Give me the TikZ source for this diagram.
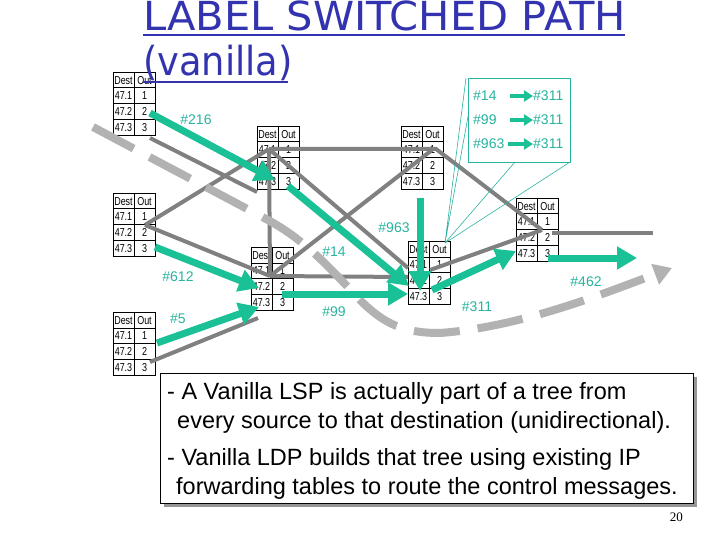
\documentclass[tikz,border=0pt]{standalone}
\usepackage{fontspec}
\setmainfont{Liberation Sans}
\newfontfamily\titlefont{DejaVu Sans}
\newfontfamily\numfont{Liberation Serif}
\usetikzlibrary{arrows.meta}
\definecolor{lspgreen}{RGB}{26,192,150}
\definecolor{labteal}{RGB}{40,180,160}
\definecolor{linkgray}{RGB}{128,128,128}
\definecolor{pathgray}{RGB}{178,178,178}
\definecolor{titleblue}{RGB}{51,51,175}
\definecolor{shadowgray}{RGB}{150,150,150}
\newcommand{\tc}[1]{\scalebox{0.78}[1]{#1}}
\begin{document}
\begin{tikzpicture}[x=1pt,y=-1pt,
  tcell/.style={inner sep=0pt, font=\fontsize{11.5}{11.5}\selectfont},
  fwd/.pic={
    \draw[fill=white, line width=0.6pt] (0,0) rectangle (42,63);
    \draw[line width=0.6pt] (21,0) -- (21,63) (0,31) -- (42,31) (0,47) -- (42,47);
    \draw[line width=1pt] (0,16) -- (42,16);
    \node[tcell] (-h1) at (10.5,8.5) {\tc{Dest}};
    \node[tcell] (-h2) at (31.5,8.5) {\tc{Out}};
    \node[tcell] (-a1) at (10.5,24) {\tc{47.1}};
    \node[tcell] (-b1) at (31.5,24) {\tc{1}};
    \node[tcell] (-a2) at (10.5,39.5) {\tc{47.2}};
    \node[tcell] (-b2) at (31.5,39.5) {\tc{2}};
    \node[tcell] (-a3) at (10.5,55.5) {\tc{47.3}};
    \node[tcell] (-b3) at (31.5,55.5) {\tc{3}};
  },
  link/.style={draw=linkgray, line width=4pt},
  lsp/.style={draw=lspgreen, line width=7pt, -{Triangle[length=20pt,width=22pt]}},
  minilsp/.style={draw=lspgreen, line width=4pt, -{Triangle[length=9pt,width=11pt]}},
  lbl/.style={text=labteal, font=\fontsize{14}{14}\selectfont, inner sep=0pt},
  callout/.style={draw=labteal, line width=0.6pt},
  bodytext/.style={font=\fontsize{23.5}{24}\selectfont, inner sep=0pt, anchor=base west},
]
\useasboundingbox (0,0) rectangle (720,540);
\fill[white] (0,0) rectangle (720,540);

% forwarding tables
\pic (t1) at (113,72) {fwd};
\pic (t2) at (257,126) {fwd};
\pic (t3) at (401,126) {fwd};
\pic (t4) at (113,193) {fwd};
\pic (t5) at (251,247) {fwd};
\pic (t6) at (113,312) {fwd};
\pic (t7) at (408,241) {fwd};
\pic (t8) at (516,198) {fwd};

% junction points
\coordinate (j1) at (150,138);
\coordinate (j2) at (269,149);
\coordinate (j3) at (436,149);
\coordinate (j4) at (145,225);
\coordinate (j5) at (270,276);
\coordinate (j6) at (150,362);
\coordinate (j7) at (430,270);
\coordinate (j8) at (542,230);
\coordinate (e2) at (257,192);
\coordinate (e3) at (432,150);
\coordinate (e5) at (258,318);
\coordinate (e7a) at (408,268);
\coordinate (e7b) at (408,277);
\coordinate (e8) at (552,233);
\coordinate (out8) at (653,233);

% physical links
\draw[link] (j1) -- (e2);
\draw[link] (j4) -- (j2);
\draw[link] (j2) -- (j3) -- (j8);
\draw[link] (j2) -- (e7a);
\draw[link] (j2) -- (j5);
\draw[link] (j4) -- (j5);
\draw[link] (j5) -- (e7b);
\draw[link] (j5) -- (e3);
\draw[link] (j6) -- (e5);
\draw[link] (j7) -- (j8);
\draw[link] (e8) -- (out8);

% dashed control path
\coordinate (p0) at (93,127);
\coordinate (p1) at (268,220);
\coordinate (p2) at (360,300);
\coordinate (p3) at (440,333);
\coordinate (p4) at (672,268);
\draw[draw=pathgray, line width=8pt, dash pattern=on 46pt off 18pt,
      -{Triangle[length=18pt,width=21pt]}]
  (p0) -- (p1) .. controls (305,240) and (330,268) .. (p2)
       .. controls (385,325) and (405,333) .. (p3)
       .. controls (520,327) and (600,295) .. (p4);

% LSP arrows
\coordinate (s1) at (150,113);  \coordinate (d1) at (275,180);
\coordinate (s2) at (288,186);  \coordinate (d2) at (409,286);
\coordinate (s3) at (282,294);  \coordinate (d3) at (408,294);
\coordinate (s4) at (420,198);  \coordinate (d4) at (420,291);
\coordinate (s5) at (432,290);  \coordinate (d5) at (516,251);
\coordinate (s6) at (548,258);  \coordinate (d6) at (637,258);
\coordinate (s7) at (155,247);  \coordinate (d7) at (259,288);
\coordinate (s8) at (157,343);  \coordinate (d8) at (259,307);
\draw[lsp] (s1) -- (d1);
\draw[lsp] (s2) -- (d2);
\draw[lsp] (s3) -- (d3);
\draw[lsp] (s4) -- (d4);
\draw[lsp] (s5) -- (d5);
\draw[lsp] (s6) -- (d6);
\draw[lsp] (s7) -- (d7);
\draw[lsp] (s8) -- (d8);

% labels
\node[lbl] (l216) at (196,120) {\#216};
\node[lbl] (l963) at (394,228) {\#963};
\node[lbl] (l14) at (334,252) {\#14};
\node[lbl] (l612) at (178,277) {\#612};
\node[lbl] (l5) at (178,319) {\#5};
\node[lbl] (l99) at (334,312) {\#99};
\node[lbl] (l311) at (477,307) {\#311};
\node[lbl] (l462) at (586,282) {\#462};

% callout
\coordinate (cp) at (445,243);
\coordinate (ca) at (466,78);
\coordinate (cb) at (475,78);
\coordinate (cc) at (515,162);
\coordinate (cd) at (570,162);
\draw[callout] (cp) -- (ca) (cp) -- (cb) (cp) -- (cc) (cp) -- (cd);
\draw[callout, fill=white] (468,78) rectangle (570,162);
\node[lbl, anchor=west] (c14) at (473,96) {\#14};
\node[lbl, anchor=west] (c99) at (473,120) {\#99};
\node[lbl, anchor=west] (c963) at (473,144) {\#963};
\node[lbl, anchor=west] (o1) at (533,96) {\#311};
\node[lbl, anchor=west] (o2) at (533,120) {\#311};
\node[lbl, anchor=west] (o3) at (533,144) {\#311};
\coordinate (m1) at (510,96);
\coordinate (m2) at (510,120);
\coordinate (m3) at (508,144);
\draw[minilsp] (m1) -- (o1.west);
\draw[minilsp] (m2) -- (o2.west);
\draw[minilsp] (m3) -- (o3.west);

% title
\node[inner sep=0pt, anchor=base west, text=titleblue,
      font=\titlefont\fontsize{40}{40}\selectfont] (title1) at (143,31) {\scalebox{1.04}[1]{LABEL SWITCHED PATH}};
\node[inner sep=0pt, anchor=base west, text=titleblue,
      font=\titlefont\fontsize{40}{40}\selectfont] (title2) at (143,76) {\scalebox{0.92}[1]{(vanilla)}};
\draw[titleblue, line width=2.5pt] (143,35) -- (625,35);
\draw[titleblue, line width=2.5pt] (143,82) -- (288,82);

% explanation box
\fill[shadowgray] (164,377) rectangle (697,507);
\draw[fill=white, line width=0.8pt] (160,373) rectangle (693,503);
\node[bodytext] (b1) at (167,399) {- A Vanilla LSP is actually part of a tree from};
\node[bodytext] (b2) at (177,428) {every source to that destination (unidirectional).};
\node[bodytext] (b3) at (167,465) {- Vanilla LDP builds that tree using existing IP};
\node[bodytext] (b4) at (176,494) {forwarding tables to route the control messages.};

\node[inner sep=0pt, anchor=base east, font=\numfont\fontsize{13}{13}\selectfont] (pg) at (683,521) {20};
\end{tikzpicture}
\end{document}
